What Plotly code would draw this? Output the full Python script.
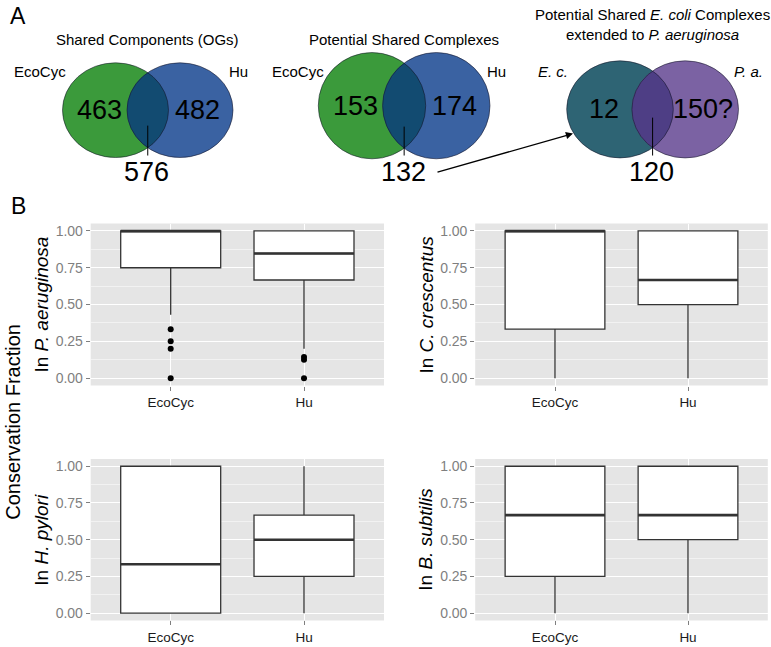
import math
import plotly.graph_objects as go

W, H = 771, 647
FONT = "Liberation Sans, Arial, Helvetica, sans-serif"

# ---------------- Panel A data (Venn diagrams) ----------------
venn_titles = ["Shared Components (OGs)",
               "Potential Shared Complexes",
               "Potential Shared <i>E. coli</i> Complexes<br>extended to <i>P. aeruginosa</i>"]
venn_left_labels = ["EcoCyc", "EcoCyc", "<i>E. c.</i>"]
venn_right_labels = ["Hu", "Hu", "<i>P. a.</i>"]
venn_left_only = ["463", "153", "12"]
venn_right_only = ["482", "174", "150?"]
venn_shared = ["576", "132", "120"]
venn_col_left = ["#3b9a3b", "#3b9a3b", "#2e6474"]
venn_col_right = ["#3a62a2", "#3a62a2", "#7b62a3"]
venn_col_mid = ["#124b71", "#124b71", "#4e3e85"]

# ---------------- Panel B data (box plots) ----------------
species = ["<i>P. aeruginosa</i>", "<i>C. crescentus</i>", "<i>H. pylori</i>", "<i>B. subtilis</i>"]
sources = ["EcoCyc", "Hu"]
q1 = [[0.75, 0.667], [0.333, 0.5], [0.0, 0.25], [0.25, 0.5]]
median = [[1.0, 0.847], [1.0, 0.667], [0.333, 0.5], [0.667, 0.667]]
q3 = [[1.0, 1.0], [1.0, 1.0], [1.0, 0.667], [1.0, 1.0]]
lower = [[0.43, 0.2], [0.0, 0.0], [0.0, 0.0], [0.0, 0.0]]
upper = [[1.0, 1.0], [1.0, 1.0], [1.0, 1.0], [1.0, 1.0]]
outliers = [[[0.333, 0.25, 0.2, 0.0], [0.143, 0.125, 0.0]],
            [[], []], [[], []], [[], []]]
y_ticks = [0.0, 0.25, 0.5, 0.75, 1.0]
y_ticktext = ["0.00", "0.25", "0.50", "0.75", "1.00"]
y_minor = [0.125, 0.375, 0.625, 0.875]


def pxx(x):
    return x / W


def pxy(y):
    return 1 - y / H


fig = go.Figure()
shapes = []
annotations = []


def label(x, y, text, size, angle=0):
    annotations.append(dict(x=pxx(x), y=pxy(y), xref="paper", yref="paper", text=text,
                            xanchor="center", yanchor="middle", showarrow=False,
                            textangle=angle, font=dict(size=size, color="black", family=FONT)))


# ---------------- Venn layout ----------------
venn_cx_left = [115.5, 372.0, 620.0]
venn_cx_right = [180.0, 436.3, 685.2]
venn_cy = [109.5, 105.0, 108.7]
venn_rx = [53.0, 53.7, 53.3]
venn_ry = [47.5, 53.3, 48.7]
title_y = [39, 39, 24]
left_label_x = [40, 297.5, 553]
right_label_x = [238, 496, 748]
line_top = [125, 126, 117]

for i in range(3):
    cl, cr, cy, rx, ry = venn_cx_left[i], venn_cx_right[i], venn_cy[i], venn_rx[i], venn_ry[i]
    for cx, col in ((cl, venn_col_left[i]), (cr, venn_col_right[i])):
        shapes.append(dict(type="circle", xref="paper", yref="paper",
                           x0=pxx(cx - rx), x1=pxx(cx + rx), y0=pxy(cy + ry), y1=pxy(cy - ry),
                           fillcolor=col, line=dict(width=0)))
    # lens
    xm = (cl + cr) / 2
    t0 = math.acos((xm - cl) / rx)
    n = 40
    pts = []
    for k in range(n + 1):
        t = -t0 + 2 * t0 * k / n
        pts.append((cl + rx * math.cos(t), cy + ry * math.sin(t)))
    for k in range(n + 1):
        t = math.pi - t0 + 2 * t0 * k / n
        pts.append((cr + rx * math.cos(t), cy - ry * math.sin(t)))
    path = "M " + " L ".join(f"{pxx(x):.5f},{pxy(y):.5f}" for x, y in pts) + " Z"
    shapes.append(dict(type="path", xref="paper", yref="paper", path=path,
                       fillcolor=venn_col_mid[i], line=dict(width=0)))
    for cx in (cl, cr):
        shapes.append(dict(type="circle", xref="paper", yref="paper",
                           x0=pxx(cx - rx), x1=pxx(cx + rx), y0=pxy(cy + ry), y1=pxy(cy - ry),
                           fillcolor="rgba(0,0,0,0)", line=dict(width=0.8, color="rgba(20,20,40,0.7)")))
    # connector line
    shapes.append(dict(type="line", xref="paper", yref="paper",
                       x0=pxx(xm), x1=pxx(xm), y0=pxy(line_top[i]), y1=pxy(155),
                       line=dict(color="black", width=1)))
    # numbers and labels
    label(cl - 0.3 * rx, cy, venn_left_only[i], 27)
    label(cr + 0.33 * rx, cy, venn_right_only[i], 27)
    label(xm - 1, 172, venn_shared[i], 27)
    label(left_label_x[i], 71, venn_left_labels[i], 15)
    label(right_label_x[i], 71, venn_right_labels[i], 15)
    label(xm, title_y[i], venn_titles[i], 15)

# arrow from 132 to the third Venn
annotations.append(dict(x=pxx(573), y=pxy(133), xref="paper", yref="paper", text="",
                        showarrow=True, ax=-137, ay=39, arrowhead=2, arrowsize=1.1,
                        arrowwidth=1.3, arrowcolor="black"))

# panel letters
label(18, 15, "A", 23)
label(18, 206, "B", 23)

# ---------------- Box plots ----------------
panels_x = [(90.7, 384.0), (475.2, 767.8), (90.7, 384.0), (475.2, 767.8)]
panels_y = [(223.3, 385.7), (223.3, 385.7), (459.3, 621.4), (459.3, 621.4)]
title_x = [42, 427, 42, 426]
box_line = "#333333"

for p in range(4):
    ax_id = "" if p == 0 else str(p + 1)
    xr, yr = "x" + ax_id, "y" + ax_id
    for j in range(2):
        fig.add_trace(go.Box(
            x=[j], q1=[q1[p][j]], median=[median[p][j]], q3=[q3[p][j]],
            lowerfence=[lower[p][j]], upperfence=[upper[p][j]],
            width=0.75, whiskerwidth=0, boxpoints=False,
            fillcolor="white", line=dict(color=box_line, width=1.3),
            xaxis=xr, yaxis=yr, showlegend=False, hoverinfo="skip"))
        fig.add_trace(go.Scatter(
            x=[j - 0.375, j + 0.375], y=[median[p][j], median[p][j]], mode="lines",
            line=dict(color=box_line, width=2.6), xaxis=xr, yaxis=yr,
            showlegend=False, hoverinfo="skip"))
        if outliers[p][j]:
            fig.add_trace(go.Scatter(
                x=[j] * len(outliers[p][j]), y=outliers[p][j], mode="markers",
                marker=dict(color="black", size=6), xaxis=xr, yaxis=yr,
                showlegend=False, hoverinfo="skip"))
    x0, x1 = panels_x[p]
    y0, y1 = panels_y[p]
    fig.update_layout(**{
        "xaxis" + ax_id: dict(domain=[pxx(x0), pxx(x1)], range=[-0.6, 1.6], anchor=yr,
                              tickvals=[0, 1], ticktext=sources, showgrid=True,
                              gridcolor="white", gridwidth=1.1, zeroline=False,
                              ticks="outside", ticklen=4, tickcolor="#7f7f7f", tickwidth=1,
                              tickfont=dict(size=13.5, color="#1a1a1a", family=FONT),
                              showline=False, fixedrange=True),
        "yaxis" + ax_id: dict(domain=[pxy(y1), pxy(y0)], range=[-0.05, 1.05], anchor=xr,
                              tickvals=y_ticks, ticktext=y_ticktext, showgrid=True,
                              gridcolor="white", gridwidth=1.1, zeroline=False,
                              ticks="outside", ticklen=4, tickcolor="#7f7f7f", tickwidth=1,
                              tickfont=dict(size=14, color="#7f7f7f", family=FONT),
                              minor=dict(tickvals=y_minor, showgrid=True, gridcolor="#F2F2F2",
                                         gridwidth=0.6, ticks=""),
                              showline=False, fixedrange=True),
    })
    shapes.append(dict(type="rect", xref=xr + " domain", yref=yr + " domain",
                       x0=0, x1=1, y0=0, y1=1, fillcolor="#E5E5E5",
                       line=dict(width=0), layer="below"))
    label(title_x[p], (y0 + y1) / 2, "In " + species[p], 19, angle=-90)

label(13, 422, "Conservation Fraction", 20, angle=-90)

fig.update_layout(width=W, height=H, margin=dict(l=0, r=0, t=0, b=0),
                  paper_bgcolor="white", plot_bgcolor="white",
                  shapes=shapes, annotations=annotations,
                  font=dict(family=FONT), showlegend=False)

fig.write_html("out.html", config={"displayModeBar": False},
               post_script="document.body.style.margin='0';document.body.style.padding='0';")
